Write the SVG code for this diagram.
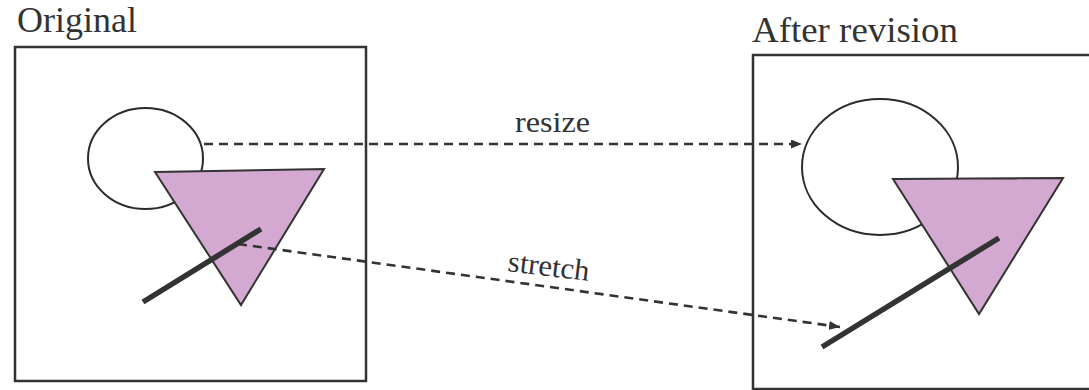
<svg xmlns="http://www.w3.org/2000/svg" width="1089" height="390" viewBox="0 0 1089 390">
<style>
.frame{fill:none;stroke:#333;stroke-width:2.5}
.ell{fill:#fff;stroke:#2b2b2b;stroke-width:2}
.tri{fill:#d4a9d1;stroke:#333;stroke-width:2;stroke-linejoin:miter}
.bar{stroke:#333;stroke-width:5.5;fill:none}
.dash{fill:none;stroke:#333;stroke-width:2.6;stroke-dasharray:9 6}
.t{font-family:"Liberation Serif","Times New Roman",serif;fill:#333}
</style>
<defs>
<marker id="ah" markerWidth="11" markerHeight="9" refX="11" refY="4.5" orient="auto" markerUnits="userSpaceOnUse">
<path d="M0,0 L11,4.5 L0,9 Z" fill="#333"/>
</marker>
</defs>
<rect width="1089" height="390" fill="#fff"/>
<g id="original">
<text class="t" x="17" y="32" font-size="35" textLength="120" lengthAdjust="spacingAndGlyphs">Original</text>
<rect class="frame" x="15" y="47" width="351" height="334"/>
<ellipse class="ell" cx="145.5" cy="158.5" rx="57.5" ry="50.5"/>
<polygon class="tri" points="155,172 324,169 241,305"/>
<line class="bar" x1="143" y1="302" x2="261" y2="229"/>
</g>
<g id="revised">
<text class="t" x="752" y="42" font-size="36" textLength="206" lengthAdjust="spacingAndGlyphs">After revision</text>
<rect class="frame" x="753" y="55" width="400" height="334"/>
<ellipse class="ell" cx="880" cy="167" rx="78" ry="68"/>
<polygon class="tri" points="893,179 1063,178 979,314"/>
<line class="bar" x1="822" y1="347" x2="999" y2="238"/>
</g>
<g id="connectors">
<line class="dash" x1="204" y1="144" x2="802" y2="144" marker-end="url(#ah)"/>
<line class="dash" x1="238" y1="244" x2="840" y2="327" marker-end="url(#ah)"/>
<text class="t" x="515" y="132" font-size="30" textLength="75" lengthAdjust="spacingAndGlyphs">resize</text>
<text class="t" x="0" y="0" font-size="30" textLength="82" lengthAdjust="spacingAndGlyphs" transform="translate(507,271) rotate(7)">stretch</text>
</g>
</svg>
